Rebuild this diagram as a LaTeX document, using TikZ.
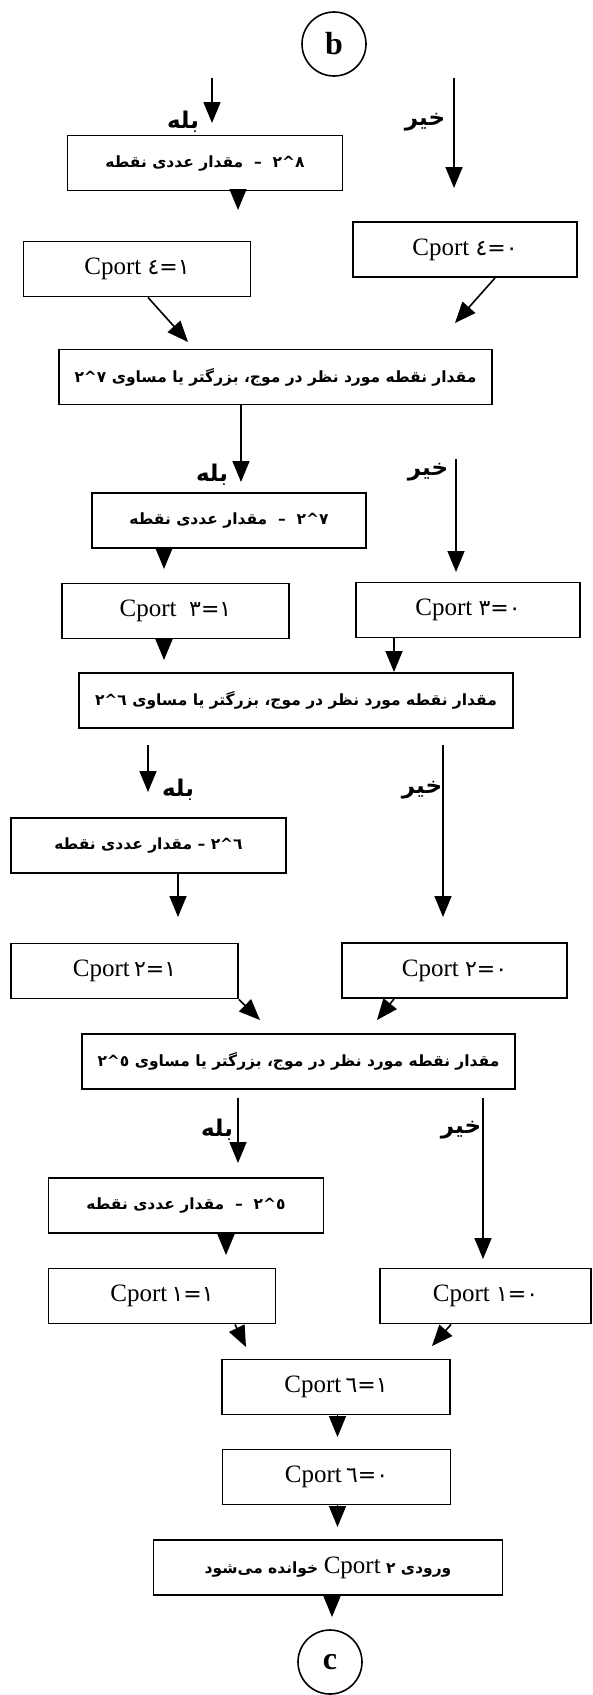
\documentclass[tikz,border=0pt]{standalone}
\usepackage{fontspec}
\setmainfont{Liberation Serif}
\newfontfamily\fa[Script=Arabic]{DejaVu Sans}
\TeXXeTstate=1
\usetikzlibrary{arrows.meta}
\newcommand\dg[1]{\mbox{\fa\fontsize{22}{24}\selectfont #1}}
\newcommand\cpv[2]{\dg{#1}\dg{=}\dg{#2}}
\newcommand\pw[2]{\mbox{#1}\mbox{\textasciicircum}\mbox{#2}}
\begin{document}
\begin{tikzpicture}[x=1pt,y=-1pt,
  box/.style={draw, line width=1.9pt, minimum height=55pt, inner sep=0pt, align=center},
  pbox/.style={box, font=\fa\bfseries\fontsize{15.5}{20}\selectfont},
  cbox/.style={box, font=\fontsize{25}{30}\selectfont},
  arr/.style={line width=1.6pt, -{Triangle[length=21pt,width=17pt]}},
  lbl/.style={font=\fa\bfseries\fontsize{23}{26}\selectfont, inner sep=0pt},
  conn/.style={draw, circle, line width=1.6pt, minimum size=64pt, inner sep=0pt, font=\bfseries\fontsize{32}{34}\selectfont}]
\useasboundingbox (0,0) rectangle (593,1695);

% connectors
\node[conn] (b) at (334,44) {b};
\node[conn] (c) at (330,1662) {c};

% top part
\coordinate (ys1) at (212,78); \coordinate (ye1) at (212,123);
\coordinate (ns1) at (454,78); \coordinate (ne1) at (454,188);
\draw[arr] (ys1) -- (ye1);
\draw[arr] (ns1) -- (ne1);
\node[lbl] (yl1) at (183,122) {\beginR بله\endR};
\node[lbl] (nl1) at (425,122) {\beginR خیر\endR};

\node[pbox, minimum width=275pt] (b8) at (205,163) {\beginR مقدار عددی نقطه\endR\ \ –\ \ \pw{٢}{٨}};
\coordinate (b8t) at (238,210);
\draw[arr] (b8.south -| b8t) -- (b8t);

\node[cbox, minimum width=227pt] (c41) at (137,269) {Cport \cpv{٤}{١}};
\node[cbox, minimum width=224pt] (c40) at (465,249.5) {Cport \cpv{٤}{٠}};

\node[pbox, minimum width=433pt] (d7) at (275.5,377) {\pw{٢}{٧}\ \beginR مقدار نقطه مورد نظر در موج، بزرگتر یا مساوی\endR};
\draw[arr] (c41.south -| 148,0) -- (188,342);
\draw[arr] (c40.south -| 495,0) -- (455,323);

% 2^7 branch
\coordinate (ye2) at (241,482);
\draw[arr] (d7.south -| ye2) -- (ye2);
\coordinate (ns2) at (456,459); \coordinate (ne2) at (456,572);
\draw[arr] (ns2) -- (ne2);
\node[lbl] (yl2) at (212,475) {\beginR بله\endR};
\node[lbl] (nl2) at (428,472) {\beginR خیر\endR};

\node[pbox, minimum width=274pt] (b7) at (229,520.5) {\beginR مقدار عددی نقطه\endR\ \ –\ \ \pw{٢}{٧}};
\coordinate (b7t) at (164,569);
\draw[arr] (b7.south -| b7t) -- (b7t);

\node[cbox, minimum width=227pt] (c31) at (175.5,611) {Cport \ \cpv{٣}{١}};
\node[cbox, minimum width=224pt] (c30) at (468,610) {Cport \cpv{٣}{٠}};
\coordinate (c31t) at (164,660);
\draw[arr] (c31.south -| c31t) -- (c31t);

\node[pbox, minimum width=434pt] (d6) at (296,700.5) {\pw{٢}{٦}\ \beginR مقدار نقطه مورد نظر در موج، بزرگتر یا مساوی\endR};
\draw[arr] (c30.south -| 394,0) -- (d6.north -| 394,0);

% 2^6 branch
\coordinate (ys3) at (148,745); \coordinate (ye3) at (148,792);
\draw[arr] (ys3) -- (ye3);
\coordinate (ns3) at (443,745); \coordinate (ne3) at (443,917);
\draw[arr] (ns3) -- (ne3);
\node[lbl] (yl3) at (178,790) {\beginR بله\endR};
\node[lbl] (nl3) at (422,790) {\beginR خیر\endR};

\node[pbox, minimum width=275pt] (b6) at (148.5,845.5) {\beginR مقدار عددی نقطه\endR\ –\ \pw{٢}{٦}};
\coordinate (b6t) at (178,917);
\draw[arr] (b6.south -| b6t) -- (b6t);

\node[cbox, minimum width=227pt] (c21) at (124.5,971) {Cport\,\cpv{٢}{١}};
\node[cbox, minimum width=225pt] (c20) at (454.5,970.5) {Cport \cpv{٢}{٠}};

\node[pbox, minimum width=433pt] (d5) at (298.5,1061.5) {\pw{٢}{٥}\ \beginR مقدار نقطه مورد نظر در موج، بزرگتر یا مساوی\endR};
\draw[arr] (c21.south east) -- (260,1020);
\draw[arr] (c20.south -| 394,0) -- (377,1020);

% 2^5 branch
\coordinate (ys4) at (238,1098); \coordinate (ye4) at (238,1163);
\draw[arr] (ys4) -- (ye4);
\coordinate (ns4) at (483,1098); \coordinate (ne4) at (483,1259);
\draw[arr] (ns4) -- (ne4);
\node[lbl] (yl4) at (217,1130) {\beginR بله\endR};
\node[lbl] (nl4) at (461,1130) {\beginR خیر\endR};

\node[pbox, minimum width=275pt] (b5) at (186,1205.5) {\beginR مقدار عددی نقطه\endR\ \ –\ \ \pw{٢}{٥}};
\coordinate (b5t) at (226,1255);
\draw[arr] (b5.south -| b5t) -- (b5t);

\node[cbox, minimum width=227pt] (c11) at (162,1296) {Cport\,\cpv{١}{١}};
\node[cbox, minimum width=211pt] (c10) at (485.5,1296) {Cport \cpv{١}{٠}};
\draw[arr] (c11.south -| 235,0) -- (246,1347);
\draw[arr] (c10.south -| 451,0) -- (432,1346);

\node[cbox, minimum width=228pt] (c61) at (336,1387) {Cport\,\cpv{٦}{١}};
\coordinate (c61t) at (337.5,1437);
\draw[arr] (c61.south -| c61t) -- (c61t);

\node[cbox, minimum width=228pt] (c60) at (336.5,1477) {Cport\,\cpv{٦}{٠}};
\coordinate (c60t) at (337.5,1527);
\draw[arr] (c60.south -| c60t) -- (c60t);

\node[pbox, minimum width=349pt] (fin) at (328,1567.5) {\beginR ورودی ٢ \beginL{\rmfamily\mdseries\fontsize{25}{30}\selectfont Cport}\endL{} خوانده می^^^^200cشود\endR};
\coordinate (fint) at (332,1617);
\draw[arr] (fin.south -| fint) -- (fint);
\end{tikzpicture}
\end{document}
